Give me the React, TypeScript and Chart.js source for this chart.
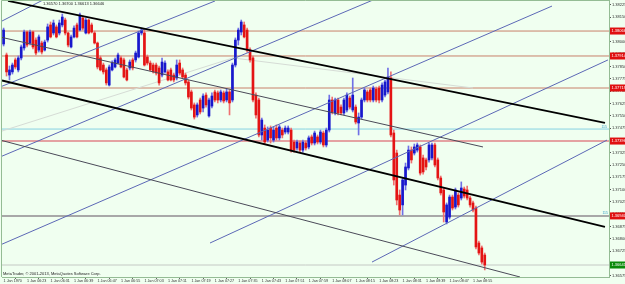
import React, { useEffect, useRef } from "react";
import { Chart, registerables } from "chart.js";

Chart.register(...registerables);

// ---- candle data (EURUSD M1), bar index 0 = 06:15 ----
const opens = [
  1.37987, 1.3792, 1.37798, 1.37817, 1.3789, 1.37829, 1.37902, 1.37963, 1.3806, 1.37993,
  1.3806, 1.38011, 1.3795, 1.37993, 1.3795, 1.38011, 1.38103, 1.38054, 1.38091, 1.38054,
  1.38103, 1.38133, 1.38054, 1.37969, 1.3803, 1.38103, 1.38072, 1.38145, 1.38054, 1.38133,
  1.38103, 1.38054, 1.37993, 1.37902, 1.37859, 1.37829, 1.37737, 1.37829, 1.37847, 1.37871,
  1.37902, 1.3789, 1.37829, 1.37841, 1.3789, 1.3789, 1.37908, 1.38054, 1.38054, 1.37908,
  1.37871, 1.37859, 1.37859, 1.37841, 1.37798, 1.37817, 1.37817, 1.37829, 1.37798, 1.3778,
  1.37871, 1.37829, 1.37798, 1.37756, 1.37695, 1.37616, 1.37555, 1.37646, 1.37597, 1.37676,
  1.37549, 1.37609, 1.37695, 1.37689, 1.37646, 1.37689, 1.37646, 1.37695, 1.37646, 1.37859,
  1.38011, 1.3806, 1.38103, 1.38072, 1.3795, 1.37902, 1.37676, 1.37646, 1.37433, 1.37475,
  1.37402, 1.37475, 1.37402, 1.37475, 1.37415, 1.37463, 1.37451, 1.37451, 1.37463, 1.3739,
  1.37354, 1.37384, 1.37341, 1.37384, 1.3736, 1.37421, 1.37384, 1.37421, 1.3739, 1.37445,
  1.37372, 1.37463, 1.37646, 1.37567, 1.37646, 1.37603, 1.37567, 1.37585, 1.37658, 1.37585,
  1.37603, 1.37506, 1.37542, 1.37646, 1.37695, 1.37707, 1.37646, 1.37713, 1.37719, 1.37646,
  1.37676, 1.37695, 1.3778, 1.37445, 1.37323, 1.37067, 1.37007, 1.37128, 1.37232, 1.37341,
  1.37323, 1.37341, 1.3736, 1.37293, 1.37281, 1.37281, 1.37293, 1.37372, 1.37281, 1.37171,
  1.37098, 1.36903, 1.36933, 1.37055, 1.36994, 1.37067, 1.37049, 1.37104, 1.37098, 1.37049,
  1.37019, 1.36988, 1.36775, 1.36745, 1.36702,
];
const highs = [
  1.38084, 1.37932, 1.37853, 1.37871, 1.37902, 1.37914, 1.37981, 1.38072, 1.38066, 1.38072,
  1.38066, 1.38024, 1.38042, 1.38005, 1.38011, 1.38109, 1.38121, 1.38133, 1.38103, 1.38133,
  1.3817, 1.38145, 1.3806, 1.38042, 1.38097, 1.38115, 1.38176, 1.38158, 1.38145, 1.38139,
  1.38115, 1.38066, 1.37999, 1.37914, 1.37871, 1.37841, 1.37859, 1.37884, 1.37902, 1.37932,
  1.37914, 1.37902, 1.37841, 1.3789, 1.37902, 1.37944, 1.38066, 1.38084, 1.38072, 1.3792,
  1.37884, 1.37871, 1.37871, 1.37853, 1.37902, 1.37884, 1.37829, 1.37841, 1.3781, 1.3789,
  1.3789, 1.37841, 1.3781, 1.37768, 1.37707, 1.37628, 1.37628, 1.37658, 1.37683, 1.37689,
  1.37658, 1.37689, 1.37707, 1.37701, 1.37707, 1.37701, 1.37713, 1.37707, 1.37871, 1.38024,
  1.38084, 1.38133, 1.38121, 1.38084, 1.37963, 1.37914, 1.37689, 1.37658, 1.37536, 1.37494,
  1.37482, 1.37488, 1.37482, 1.37494, 1.37494, 1.37475, 1.37488, 1.37488, 1.37475, 1.37402,
  1.37402, 1.37396, 1.37402, 1.37396, 1.37427, 1.37433, 1.37457, 1.37433, 1.37463, 1.37457,
  1.37475, 1.37676, 1.37664, 1.37658, 1.37658, 1.37616, 1.37658, 1.37689, 1.3767, 1.3778,
  1.37616, 1.37567, 1.37658, 1.37719, 1.37707, 1.37719, 1.37731, 1.37725, 1.37731, 1.3775,
  1.37768, 1.37841, 1.37817, 1.37463, 1.37341, 1.37098, 1.37171, 1.37262, 1.37366, 1.3736,
  1.37378, 1.37384, 1.37372, 1.37311, 1.37293, 1.37384, 1.37384, 1.37384, 1.37293, 1.37183,
  1.3711, 1.37019, 1.37067, 1.37067, 1.3711, 1.3708, 1.37147, 1.37116, 1.37122, 1.37061,
  1.37031, 1.37, 1.36787, 1.36757, 1.36714,
];
const lows = [
  1.37975, 1.37792, 1.37768, 1.37804, 1.37835, 1.37817, 1.3789, 1.3795, 1.37969, 1.37981,
  1.37957, 1.3792, 1.37938, 1.37926, 1.37944, 1.37999, 1.38024, 1.38042, 1.38024, 1.38042,
  1.38091, 1.38042, 1.37969, 1.37963, 1.38024, 1.38024, 1.38066, 1.38072, 1.38048, 1.38048,
  1.38054, 1.37987, 1.37835, 1.37823, 1.37804, 1.37737, 1.37731, 1.37823, 1.37841, 1.37865,
  1.37841, 1.3778, 1.37762, 1.37829, 1.37829, 1.37877, 1.37902, 1.38042, 1.37853, 1.37859,
  1.37823, 1.3781, 1.37798, 1.37737, 1.37786, 1.3781, 1.37762, 1.37762, 1.37756, 1.37768,
  1.37798, 1.3778, 1.37737, 1.37652, 1.37585, 1.3753, 1.37542, 1.37561, 1.37573, 1.37603,
  1.37542, 1.37597, 1.37634, 1.37628, 1.37634, 1.37628, 1.37634, 1.37555, 1.37634, 1.37847,
  1.37981, 1.38042, 1.38024, 1.37938, 1.37877, 1.37634, 1.37536, 1.37421, 1.37402, 1.37378,
  1.3739, 1.37384, 1.3739, 1.37402, 1.37402, 1.37415, 1.37439, 1.37439, 1.37329, 1.37329,
  1.37341, 1.37329, 1.37329, 1.37341, 1.37348, 1.37372, 1.37372, 1.37378, 1.37378, 1.3736,
  1.3736, 1.37451, 1.37561, 1.37555, 1.37555, 1.37555, 1.37555, 1.37573, 1.37591, 1.37573,
  1.375, 1.37433, 1.3753, 1.37634, 1.37634, 1.37634, 1.37634, 1.37634, 1.37628, 1.37634,
  1.37664, 1.37683, 1.37421, 1.37128, 1.37007, 1.36946, 1.36946, 1.37098, 1.3722, 1.37262,
  1.37311, 1.37329, 1.37189, 1.37195, 1.3722, 1.37268, 1.37281, 1.37238, 1.37159, 1.37067,
  1.36903, 1.36891, 1.36921, 1.36976, 1.36982, 1.36994, 1.37037, 1.37049, 1.37037, 1.36994,
  1.36964, 1.36739, 1.36702, 1.36647, 1.36611,
];
const closes = [
  1.38072, 1.37817, 1.37829, 1.37859, 1.37847, 1.37902, 1.37969, 1.3806, 1.37981, 1.3806,
  1.37969, 1.37932, 1.3803, 1.37938, 1.37999, 1.38091, 1.3803, 1.38115, 1.3803, 1.38115,
  1.38151, 1.38054, 1.37981, 1.3803, 1.38084, 1.3803, 1.38164, 1.38084, 1.38133, 1.38054,
  1.3806, 1.37993, 1.37847, 1.37829, 1.37817, 1.3775, 1.37847, 1.37871, 1.3789, 1.3792,
  1.37847, 1.37786, 1.37768, 1.37877, 1.37841, 1.37932, 1.38054, 1.38072, 1.37859, 1.37871,
  1.37829, 1.37817, 1.3781, 1.3775, 1.37877, 1.37871, 1.37768, 1.37768, 1.37768, 1.37859,
  1.3781, 1.37786, 1.3775, 1.37664, 1.37597, 1.37542, 1.37616, 1.37573, 1.3767, 1.37616,
  1.37646, 1.3767, 1.37646, 1.37646, 1.37695, 1.3764, 1.37695, 1.37628, 1.37859, 1.38011,
  1.38072, 1.38121, 1.3803, 1.3795, 1.3789, 1.37646, 1.37555, 1.37433, 1.37524, 1.3739,
  1.37463, 1.37415, 1.37463, 1.37415, 1.37482, 1.37433, 1.37475, 1.37475, 1.37341, 1.37341,
  1.3739, 1.37341, 1.3739, 1.37354, 1.37415, 1.37384, 1.37445, 1.3739, 1.37451, 1.37372,
  1.37463, 1.37646, 1.37573, 1.37646, 1.37567, 1.37567, 1.37646, 1.37676, 1.37603, 1.37676,
  1.37512, 1.37542, 1.37646, 1.37707, 1.37646, 1.37646, 1.37719, 1.37646, 1.37646, 1.37737,
  1.37756, 1.37786, 1.37433, 1.37159, 1.37037, 1.36976, 1.37159, 1.37238, 1.37341, 1.37281,
  1.3736, 1.37372, 1.37201, 1.37208, 1.37238, 1.37372, 1.37372, 1.3725, 1.37171, 1.3708,
  1.36964, 1.37007, 1.37055, 1.36988, 1.37098, 1.37007, 1.3711, 1.37061, 1.37049, 1.37007,
  1.36976, 1.36751, 1.36714, 1.36659, 1.36641,
];

// ---- axes ----
const timeTickBars = [0, 8, 16, 24, 32, 40, 48, 56, 64, 72, 80, 88, 96, 104, 112, 120, 128, 136, 144, 152, 160];
const timeLabels = [
  "1 Jan 1970", "1 Jan 06:23", "1 Jan 06:31", "1 Jan 06:39", "1 Jan 06:47", "1 Jan 06:55",
  "1 Jan 07:03", "1 Jan 07:11", "1 Jan 07:19", "1 Jan 07:27", "1 Jan 07:35", "1 Jan 07:43",
  "1 Jan 07:51", "1 Jan 07:59", "1 Jan 08:07", "1 Jan 08:15", "1 Jan 08:23", "1 Jan 08:31",
  "1 Jan 08:39", "1 Jan 08:47", "1 Jan 08:55",
];
const priceTicks = [
  1.36575, 1.3665, 1.36725, 1.368, 1.36875, 1.3695, 1.37025, 1.371, 1.37175, 1.3725, 1.37325,
  1.374, 1.37475, 1.3755, 1.37625, 1.377, 1.37775, 1.3785, 1.37925, 1.38, 1.38075, 1.3815, 1.38225,
];
const X_MIN = -0.55;
const X_MAX = 206.35;
const Y_MIN = 1.36568;
const Y_MAX = 1.38255;

// ---- horizontal levels ----
const brownLevels = [1.38066, 1.37914, 1.37719];
const cyanLevels = [1.37469];
const pinkLevels = [1.37396];
const grayLevels = [1.3694];
const bidLevels = [1.36641];
const redTags = [1.38066, 1.37914, 1.37719, 1.37396, 1.3694];
const greenTags = [1.36641];

// ---- trend lines: [bar index, price] ----
const channelUpper = [[1.5, 1.38249], [204.98, 1.37506]];
const channelLower = [[-0.55, 1.37765], [204.98, 1.36873]];
const medianThinA = [[-0.55, 1.38027], [163.4, 1.3736]];
const medianThinB = [[-0.55, 1.37399], [176.01, 1.36568]];
const riseLine1 = [[-0.55, 1.38127], [13.42, 1.38255]];
const riseLine2 = [[-0.55, 1.3773], [72.05, 1.38249]];
const riseLine3 = [[-0.55, 1.37304], [125.91, 1.38255]];
const riseLine4 = [[-0.55, 1.36768], [186.92, 1.38218]];
const riseLine5 = [[70.35, 1.36775], [206.0, 1.3789]];
const riseLine6 = [[125.57, 1.36659], [205.67, 1.37402]];
const faintLine = [[-0.55, 1.37457], [78.19, 1.37902], [159.99, 1.37719]];

const headerText = "1.36570 1.36700 1.36613 1.36646";
const footerText = "MetaTrader, \u00a9 2001-2013, MetaQuotes Software Corp.";

const FONT = '"Liberation Sans Narrow", "Liberation Sans", Arial, sans-serif';
const BG = "#F0FFF0";

const lineDs = (pts: number[][], color: string, width: number, order: number) => ({
  type: "line" as const,
  data: pts.map(([x, y]) => ({ x, y })),
  borderColor: color,
  borderWidth: width,
  pointRadius: 0,
  fill: false,
  tension: 0,
  order,
});

const levelDs = (vals: number[], color: string, width: number) =>
  vals.map((v) => lineDs([[X_MIN, v], [X_MAX, v]], color, width, 5));

const bgPlugin = {
  id: "mtBg",
  beforeDraw(chart: any) {
    const { ctx, width, height } = chart;
    ctx.save();
    ctx.fillStyle = BG;
    ctx.fillRect(0, 0, width, height);
    ctx.restore();
  },
};

const overlayPlugin = {
  id: "mtOverlay",
  afterDraw(chart: any) {
    const { ctx, chartArea } = chart;
    const ys = chart.scales.y;
    ctx.save();
    ctx.strokeStyle = "#94BC94";
    ctx.lineWidth = 1;
    ctx.beginPath();
    ctx.moveTo(chartArea.left - 0.5, chartArea.bottom);
    ctx.lineTo(chartArea.left - 0.5, chartArea.top + 0.5);
    ctx.lineTo(chartArea.right, chartArea.top + 0.5);
    ctx.stroke();

    ctx.font = `4px ${FONT}`;
    ctx.textBaseline = "middle";
    ctx.textAlign = "left";
    const tag = (v: number, color: string) => {
      const py = ys.getPixelForValue(v);
      ctx.fillStyle = color;
      ctx.fillRect(chartArea.right + 1, py - 3.5, 15, 7);
      ctx.fillStyle = "#FFFFFF";
      ctx.fillText(v.toFixed(5), chartArea.right + 2.5, py);
    };
    redTags.forEach((v) => tag(v, "#E01010"));
    greenTags.forEach((v) => tag(v, "#0A8A0A"));

    ctx.font = `3.5px ${FONT}`;
    ctx.fillStyle = "#3AA0C8";
    ctx.textAlign = "right";
    ctx.fillText("115", chartArea.right - 2, ys.getPixelForValue(cyanLevels[0]) - 2);
    ctx.fillText("115", chartArea.right - 1, ys.getPixelForValue(grayLevels[0]) - 3);

    ctx.textAlign = "left";
    ctx.fillStyle = "#222222";
    ctx.font = `4px ${FONT}`;
    ctx.fillText(headerText, chartArea.left + 41, chartArea.top + 3.5);
    ctx.fillText(footerText, chartArea.left + 1, chartArea.bottom - 3.5);
    ctx.restore();
  },
};

export default function App() {
  const ref = useRef<HTMLCanvasElement>(null);
  useEffect(() => {
    const canvas = ref.current;
    if (!canvas) return;
    const bull = "#1818CC";
    const bear = "#E41414";
    const bodyColors = closes.map((c, i) => (c >= opens[i] ? bull : bear));
    const wickColors = closes.map((c, i) => (c >= opens[i] ? "#7070E6" : "#F07070"));
    const blue = "#5C68B6";
    const chart = new Chart(canvas, {
      type: "bar",
      data: {
        datasets: [
          lineDs(channelUpper, "#000000", 1.8, 1),
          lineDs(channelLower, "#000000", 1.8, 1),
          lineDs(medianThinA, "#4A4A58", 1, 1),
          lineDs(medianThinB, "#4A4A58", 1, 1),
          lineDs(riseLine1, blue, 1, 1),
          lineDs(riseLine2, blue, 1, 1),
          lineDs(riseLine3, blue, 1, 1),
          lineDs(riseLine4, blue, 1, 1),
          lineDs(riseLine5, blue, 1, 1),
          lineDs(riseLine6, blue, 1, 1),
          lineDs(faintLine, "#D6DCD6", 1, 4),
          {
            type: "bar" as const,
            data: closes.map((c, i) => ({ x: i, y: [opens[i], c] })),
            backgroundColor: bodyColors,
            barThickness: 2,
            grouped: false,
            order: 2,
          },
          {
            type: "bar" as const,
            data: closes.map((c, i) => ({ x: i, y: [lows[i], highs[i]] })),
            backgroundColor: wickColors,
            barThickness: 1,
            grouped: false,
            order: 3,
          },
          ...levelDs(brownLevels, "#C8806A", 1),
          ...levelDs(cyanLevels, "#86D2E2", 1),
          ...levelDs(pinkLevels, "#E4A2A2", 2),
          ...levelDs(grayLevels, "#A8A8A8", 2),
          ...levelDs(bidLevels, "#C4C8C4", 1),
        ] as any,
      },
      options: {
        responsive: false,
        animation: false,
        events: [],
        layout: { padding: { left: 2, top: 0, right: 0, bottom: 0 } },
        plugins: { legend: { display: false }, tooltip: { enabled: false } },
        scales: {
          x: {
            type: "linear",
            position: "bottom",
            min: X_MIN,
            max: X_MAX,
            offset: false,
            grid: { drawOnChartArea: false, drawTicks: true, tickLength: 2, color: "#666666" },
            border: { display: true, color: "#94BC94", width: 1 },
            afterBuildTicks: (scale: any) => {
              scale.ticks = timeTickBars.map((v) => ({ value: v }));
            },
            afterFit: (scale: any) => {
              scale.height = 7;
              scale.paddingLeft = 0;
              scale.paddingRight = 0;
            },
            ticks: {
              autoSkip: false,
              maxRotation: 0,
              minRotation: 0,
              align: "start",
              padding: 0,
              color: "#303030",
              font: { family: FONT, size: 3.7 },
              callback: (v: any) => {
                const k = timeTickBars.indexOf(Number(v));
                return k >= 0 ? timeLabels[k] : "";
              },
            },
          },
          y: {
            type: "linear",
            position: "right",
            min: Y_MIN,
            max: Y_MAX,
            grid: { drawOnChartArea: false, drawTicks: true, tickLength: 2, color: "#555555" },
            border: { display: true, color: "#94BC94", width: 1 },
            afterBuildTicks: (scale: any) => {
              scale.ticks = priceTicks.map((v) => ({ value: v }));
            },
            afterFit: (scale: any) => {
              scale.width = 16;
              scale.paddingTop = 0;
              scale.paddingBottom = 0;
            },
            ticks: {
              autoSkip: false,
              padding: 1,
              color: "#303030",
              font: { family: FONT, size: 4 },
              callback: (v: any) => Number(v).toFixed(5),
            },
          },
        },
      },
      plugins: [bgPlugin, overlayPlugin],
    } as any);
    return () => chart.destroy();
  }, []);
  return (
    <div style={{ position: "absolute", left: 0, top: 0, width: 625, height: 284 }}>
      <canvas ref={ref} width={625} height={284} style={{ display: "block", width: 625, height: 284 }} />
    </div>
  );
}
